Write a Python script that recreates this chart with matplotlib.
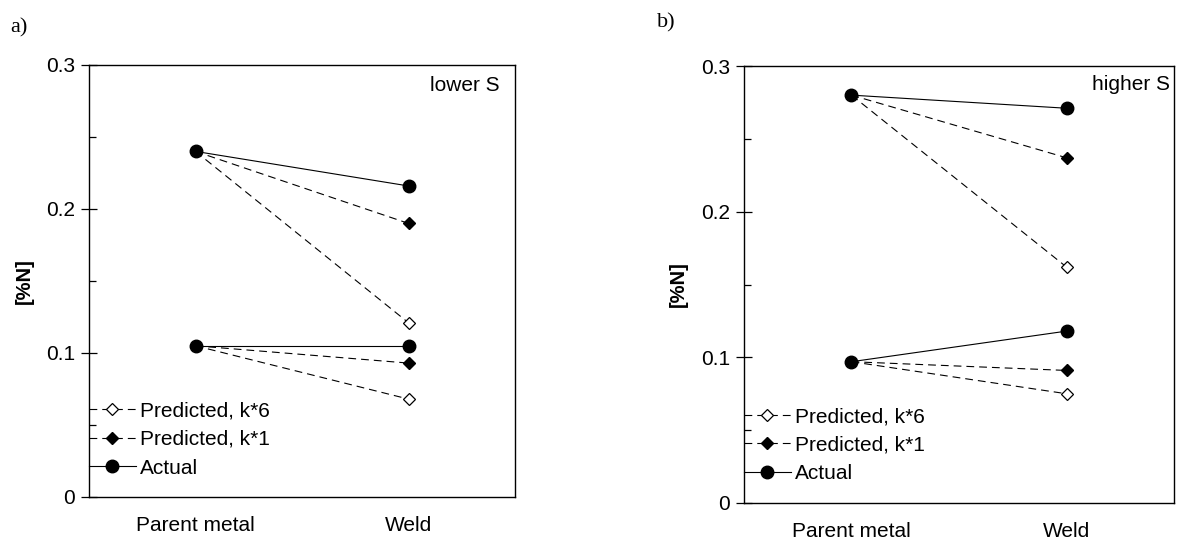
import matplotlib
matplotlib.use("Agg")
import matplotlib.pyplot as plt

plt.rcParams['font.family'] = ['Liberation Sans', 'DejaVu Sans']

categories = ["Parent metal", "Weld"]

# Panel a) lower S
a_actual_hi = [0.240, 0.216]
a_k1_hi = [0.240, 0.190]
a_k6_hi = [0.240, 0.121]
a_actual_lo = [0.105, 0.105]
a_k1_lo = [0.105, 0.093]
a_k6_lo = [0.105, 0.068]

# Panel b) higher S
b_actual_hi = [0.280, 0.271]
b_k1_hi = [0.280, 0.237]
b_k6_hi = [0.280, 0.162]
b_actual_lo = [0.097, 0.118]
b_k1_lo = [0.097, 0.091]
b_k6_lo = [0.097, 0.075]

yticks = [0, 0.1, 0.2, 0.3]
ytick_labels = ["0", "0.1", "0.2", "0.3"]
legend_labels = ["Predicted, k*6", "Predicted, k*1", "Actual"]

W, H = 1177, 544
fig = plt.figure(figsize=(W / 100, H / 100), dpi=100)

def px_axes(l, t, r, b):
    return fig.add_axes([l / W, 1 - b / H, (r - l) / W, (b - t) / H])

ax_a = px_axes(89, 65, 515, 497)
ax_b = px_axes(744, 66, 1174, 503)

dash = (0, (7, 4.5))
LW = 0.8
FS = 15

def draw(ax, hi, lo, note, note_xy):
    x = [0, 1]
    handles = {}
    for act, k1, k6 in [hi, lo]:
        h6, = ax.plot(x, k6, color='black', lw=LW, linestyle=dash, marker='D',
                      markersize=6.5, markerfacecolor='white', markeredgecolor='black',
                      markeredgewidth=0.9, markevery=[1], zorder=2)
        h1, = ax.plot(x, k1, color='black', lw=LW, linestyle=dash, marker='D',
                      markersize=6.5, markerfacecolor='black', markeredgecolor='black',
                      markevery=[1], zorder=2)
        ha, = ax.plot(x, act, color='black', lw=LW, linestyle='-', marker='o',
                      markersize=9, markerfacecolor='black', markeredgecolor='black',
                      zorder=3)
        handles = [h6, h1, ha]
    ax.set_xlim(-0.5, 1.5)
    ax.set_ylim(0, 0.3)
    ax.set_xticks([0, 1])
    ax.set_xticklabels(categories, fontsize=FS)
    ax.tick_params(axis='x', length=0, pad=14)
    ax.set_yticks(yticks)
    ax.set_yticklabels(ytick_labels, fontsize=FS)
    ax.set_yticks([0.05, 0.15, 0.25], minor=True)
    ax.tick_params(axis='y', which='major', direction='inout', length=12, width=0.9, pad=4)
    ax.tick_params(axis='y', which='minor', direction='in', length=5, width=0.9)
    for s in ax.spines.values():
        s.set_linewidth(1.0)
    ax.set_ylabel("[%N]", fontsize=FS - 0.5, fontweight='bold')
    ax.yaxis.set_label_coords(-0.13, 0.5)
    ax.text(note_xy[0], note_xy[1], note, transform=ax.transAxes, fontsize=FS,
            ha='right', va='top')
    leg = ax.legend(handles, legend_labels, loc='lower left', bbox_to_anchor=(0.0, 0.045),
                    frameon=False, fontsize=FS, handlelength=2.25, handletextpad=0.2,
                    borderaxespad=0, borderpad=0, labelspacing=0.46)
    return leg

draw(ax_a, (a_actual_hi, a_k1_hi, a_k6_hi), (a_actual_lo, a_k1_lo, a_k6_lo),
     "lower S", (0.965, 0.975))
draw(ax_b, (b_actual_hi, b_k1_hi, b_k6_hi), (b_actual_lo, b_k1_lo, b_k6_lo),
     "higher S", (0.99, 0.98))

fig.text(10 / W, 1 - 32 / H, "a)", fontsize=16, family='Liberation Serif', va='baseline')
fig.text(657 / W, 1 - 27 / H, "b)", fontsize=16, family='Liberation Serif', va='baseline')

fig.savefig("out.png", dpi=100)
